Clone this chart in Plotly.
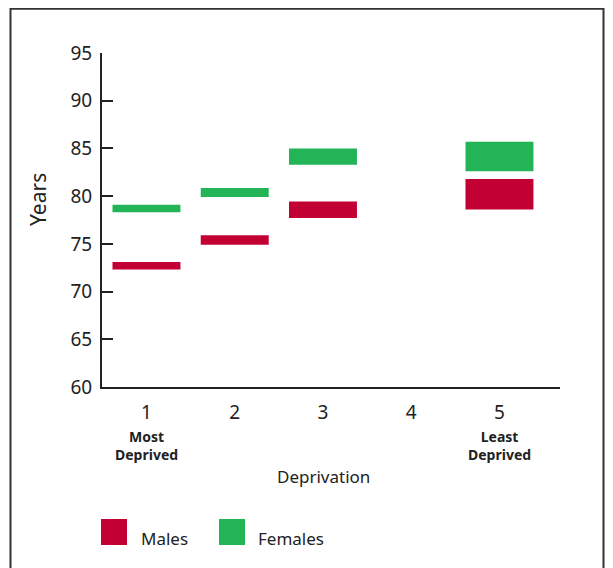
import plotly.graph_objects as go

# Data
deprivation = [1, 2, 3, 5]
male_low = [72.3, 74.9, 77.7, 78.6]
male_high = [73.1, 75.9, 79.45, 81.8]
female_low = [78.3, 79.9, 83.3, 82.6]
female_high = [79.1, 80.85, 85.0, 85.7]
tick_vals = [1, 2, 3, 4, 5]
tick_labels = ["1", "2", "3", "4", "5"]
y_ticks = [60, 65, 70, 75, 80, 85, 90, 95]

MALE = "#C30034"
FEMALE = "#23B457"
FONT = "Noto Sans, Open Sans, sans-serif"
TXT = "#222"

fig = go.Figure()
fig.add_trace(go.Bar(
    x=deprivation, base=male_low,
    y=[h - l for h, l in zip(male_high, male_low)],
    marker=dict(color=MALE, line=dict(width=0)), width=0.77, name="Males",
    showlegend=False))
fig.add_trace(go.Bar(
    x=deprivation, base=female_low,
    y=[h - l for h, l in zip(female_high, female_low)],
    marker=dict(color=FEMALE, line=dict(width=0)), width=0.77, name="Females",
    showlegend=False))

OFF = 8  # page body margin
W, H = 605, 560
L, R, T, B = 102 - OFF, 53, 53 - OFF, 181
pw, ph = W - L - R, H - T - B

def px(x):
    return (x - OFF - L) / pw

def py(y):
    return (H - B - (y - OFF)) / ph

fig.update_layout(
    width=W, height=H, barmode="overlay",
    margin=dict(l=L, r=R, t=T, b=B),
    paper_bgcolor="white", plot_bgcolor="white",
    font=dict(family=FONT, color=TXT),
    xaxis=dict(range=[0.496, 5.686], tickvals=tick_vals, ticktext=tick_labels,
               showgrid=False, zeroline=False, showline=True, linecolor=TXT,
               linewidth=2, ticks="", tickfont=dict(size=19, color=TXT),
               ticklabelstandoff=7),
    yaxis=dict(range=[60, 95], tickvals=y_ticks, showgrid=False, zeroline=False,
               showline=True, linecolor=TXT, linewidth=2, ticks="inside",
               ticklen=11, tickwidth=1.5, tickcolor=TXT,
               tickfont=dict(size=19, color=TXT), ticklabelstandoff=4),
)

def note(text, x, y, size, xref="paper", xanchor="center", angle=0):
    return dict(text=text, x=x, y=y, xref=xref, yref="paper", textangle=angle,
                xanchor=xanchor, yanchor="middle", showarrow=False,
                font=dict(size=size, color=TXT), align="center")

ann = [
    note("Years", px(38), py(200), 21, angle=-90),
    note("<b>Most<br>Deprived</b>", 1, py(446), 14, xref="x"),
    note("<b>Least<br>Deprived</b>", 5, py(446), 14, xref="x"),
    note("Deprivation", px(323), py(476), 17),
    note("Males", px(139), py(538), 17, xanchor="left"),
    note("Females", px(256), py(538), 17, xanchor="left"),
]
fig.update_layout(annotations=ann)

shapes = [
    dict(type="rect", xref="paper", yref="paper", x0=px(101), x1=px(127),
         y0=py(545), y1=py(519), fillcolor=MALE, line=dict(width=0)),
    dict(type="rect", xref="paper", yref="paper", x0=px(219), x1=px(245),
         y0=py(545), y1=py(519), fillcolor=FEMALE, line=dict(width=0)),
    dict(type="rect", xref="paper", yref="paper", x0=px(10.5), x1=px(603.5),
         y0=py(580), y1=py(8.8), fillcolor="rgba(0,0,0,0)",
         line=dict(color="#333", width=2)),
]
fig.update_layout(shapes=shapes)

fig.write_html("out.html")
